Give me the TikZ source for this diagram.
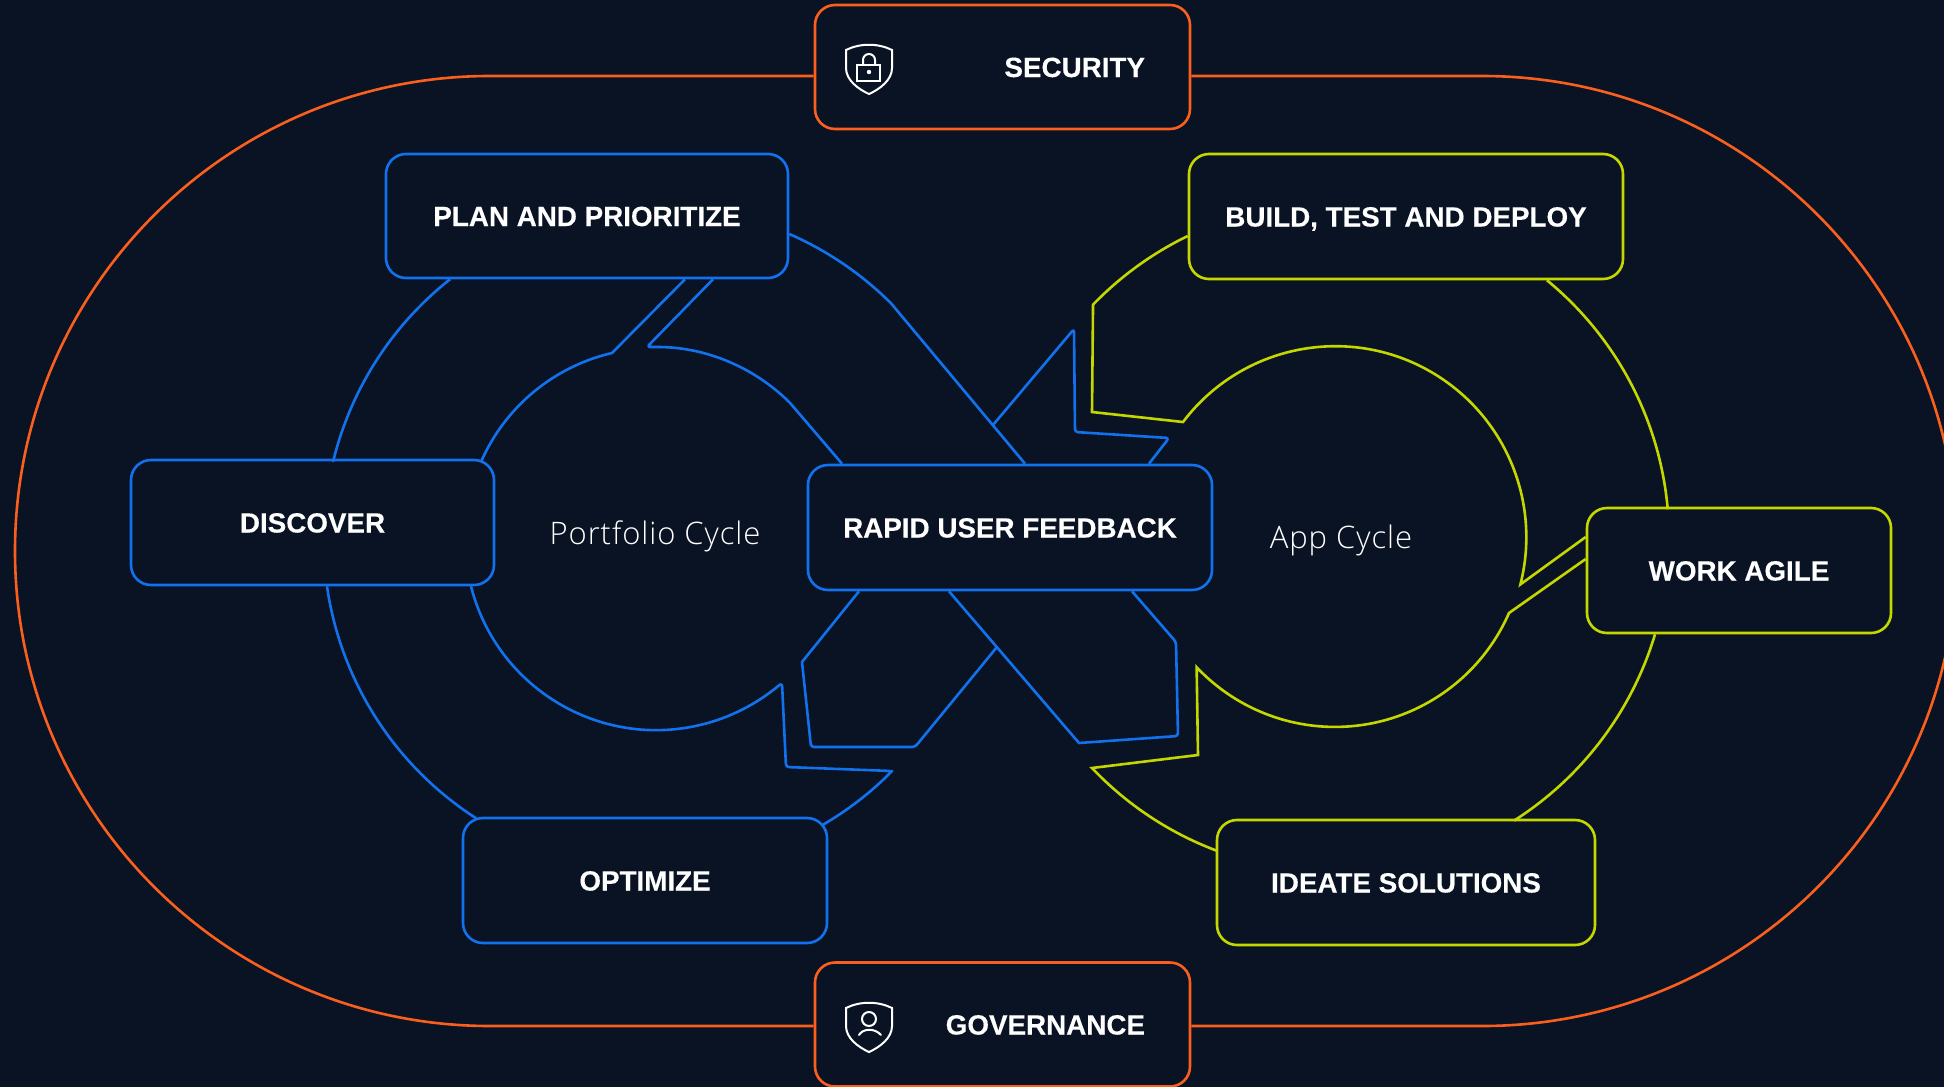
\documentclass[tikz,border=0pt]{standalone}
\usepackage{fontspec}
\setmainfont{Liberation Sans}
\newfontfamily\cyclefont[LetterSpace=3]{Open Sans Light}
\usetikzlibrary{shapes}
\definecolor{bgnavy}{HTML}{0A1324}
\definecolor{cycleblue}{HTML}{1272EE}
\definecolor{cyclegreen}{HTML}{C4D800}
\definecolor{ringorange}{HTML}{FA5F1E}

\newcommand{\drawshield}[1]{%
  \draw[icon_line, shift={(0,#1)}] (846,50) .. controls (860,43) and (878,43) .. (892,50)
    -- (892,68) .. controls (892,80) and (880,89) .. (869,94)
    .. controls (858,89) and (846,80) .. (846,68) -- cycle;}

\begin{document}
\begin{tikzpicture}[x=1pt, y=-1pt,
    block_blue/.style ={rectangle, draw=cycleblue, line width=2.6pt, rounded corners=20pt,
      fill=bgnavy, text=white, font=\bfseries\fontsize{27.8}{32}\selectfont\addfontfeature{FakeBold=0.25}, text centered,
      text height=20pt, text depth=0pt},
    block_green/.style ={block_blue, draw=cyclegreen},
    block_orange/.style ={block_blue, draw=ringorange, text width=285pt, inner xsep=45pt,
      inner ysep=0pt, minimum height=124pt, align=right},
    block_noborder/.style ={rectangle, draw=none, fill=none, text=white,
      font=\cyclefont\fontsize{31}{36}\selectfont},
    icon_line/.style ={draw=white, line width=2pt},
    line_blue/.style ={draw=cycleblue, line width=2.6pt, line join=round},
    line_green/.style ={draw=cyclegreen, line width=2.6pt, line join=miter},
    line_orange/.style ={draw=ringorange, line width=2.6pt}]
  \fill[bgnavy] (0,0) rectangle (1944,1087);
  \useasboundingbox (0,0) rectangle (1944,1087);
  \clip (0,0) rectangle (1944,1087);
  % orange band - top and bottom
  \node [block_orange] (security) at (1002.5,67) {SECURITY};
  \node [block_orange] (governance) at (1002.5,1024.5) {GOVERNANCE};
  % portfolio cycle
  \node [block_blue, minimum width=402pt, minimum height=124pt] (plan) at (587,216) {PLAN AND PRIORITIZE};
  \node [block_blue, minimum width=363pt, minimum height=125pt] (discover) at (312.5,522.5) {DISCOVER};
  \node [block_blue, minimum width=364pt, minimum height=125pt] (optimize) at (645,880.5) {OPTIMIZE};
  \node [block_blue, minimum width=404pt, minimum height=125pt] (feedback) at (1010,527.5) {RAPID USER FEEDBACK};
  % app cycle
  \node [block_green, minimum width=434pt, minimum height=125pt] (build) at (1406,216.5) {BUILD, TEST AND DEPLOY};
  \node [block_green, minimum width=304pt, minimum height=125pt] (agile) at (1739,570.5) {WORK AGILE};
  \node [block_green, minimum width=378pt, minimum height=125pt] (ideate) at (1406,882.5) {IDEATE SOLUTIONS};
  % cycle names
  \node [block_noborder] (portfolio_name) at (655,536.5) {Portfolio Cycle};
  \node [block_noborder] (app_name) at (1341,540) {App Cycle};
  % connecting nodes with paths
  \begin{scope}[every path/.style=line_orange]
    \path ([yshift=-9pt]security.west) -- (490,76) arc[start angle=90, end angle=270, radius=475pt] -- ([yshift=-1.5pt]governance.west);
    \path ([yshift=-9pt]security.east) -- (1482,76) arc[start angle=90, end angle=-90, radius=475pt] -- ([yshift=-1.5pt]governance.east);
  \end{scope}
  \begin{scope}[every path/.style=line_blue]
    % inner portfolio circle
    \path ([xshift=98pt]plan.south) -- (612,353) arc[start angle=103.1, end angle=156.2, radius=190pt];
    \path ([xshift=126pt]plan.south) [rounded corners=3pt] -- (647,347) -- (655,347) [sharp corners]
      arc[start angle=90, end angle=45, radius=191pt] -- ([xshift=-168pt]feedback.north);
    \path ([xshift=158.5pt]discover.south) arc[start angle=194.3, end angle=310, radius=191pt]
      [rounded corners=3pt] -- (782,683) -- (786,767) -- (892,771) -- (890,773) [sharp corners]
      arc[start angle=315, end angle=300.3, radius=332pt];
    % outer portfolio circle
    \path ([xshift=-137pt]plan.south) arc[start angle=128.3, end angle=166.4, radius=332pt];
    \path ([xshift=14.5pt]discover.south) arc[start angle=188.2, end angle=237.3, radius=332pt];
    \path ([yshift=-18pt]plan.east) arc[start angle=66.4, end angle=45, radius=332pt] -- ([xshift=15pt]feedback.north);
    % the crossing
    \path (993,425) [rounded corners=3pt] -- (1074,329) -- (1075,432) -- (1169,438) -- ([xshift=139pt]feedback.north);
    \path ([xshift=-151pt]feedback.south) -- (802,662) [rounded corners=3pt] -- (811,747) -- (915,747) -- (997,647);
    \path ([xshift=-61pt]feedback.south) -- (1079,743) [rounded corners=3pt] -- (1178,736) -- (1176,642) -- ([xshift=122pt]feedback.south);
  \end{scope}
  \begin{scope}[every path/.style=line_green]
    % inner app circle
    \path ([yshift=-19.5pt]build.west) arc[start angle=115.9, end angle=136, radius=335pt] -- (1092,412) -- (1183,422)
      arc[start angle=142.9, end angle=-14.3, radius=191pt] -- ([yshift=33.5pt]agile.west);
    \path ([yshift=11.5pt]agile.west) -- (1509,613) arc[start angle=-23.6, end angle=-136.7, radius=190pt]
      -- (1198,755) -- (1092,768) arc[start angle=223.5, end angle=249.3, radius=334pt];
    % outer app circle
    \path ([xshift=141pt]build.south) arc[start angle=50.6, end angle=5, radius=334pt];
    \path ([xshift=-84pt]agile.south) arc[start angle=-16.7, end angle=-57.5, radius=335pt];
  \end{scope}
  % shield icons
  \drawshield{0}
  \draw[icon_line] (857,65) rectangle (880,81);
  \draw[icon_line] (863,65) -- (863,60) arc[start angle=180, end angle=0, radius=6pt] -- (875,65);
  \fill[white] (869,72) circle (2.2pt);
  \drawshield{958}
  \draw[icon_line] (869,1019) circle (7pt);
  \draw[icon_line, line cap=round] (859,1035) .. controls (863,1028) and (875,1028) .. (881,1035);
\end{tikzpicture}
\end{document}
